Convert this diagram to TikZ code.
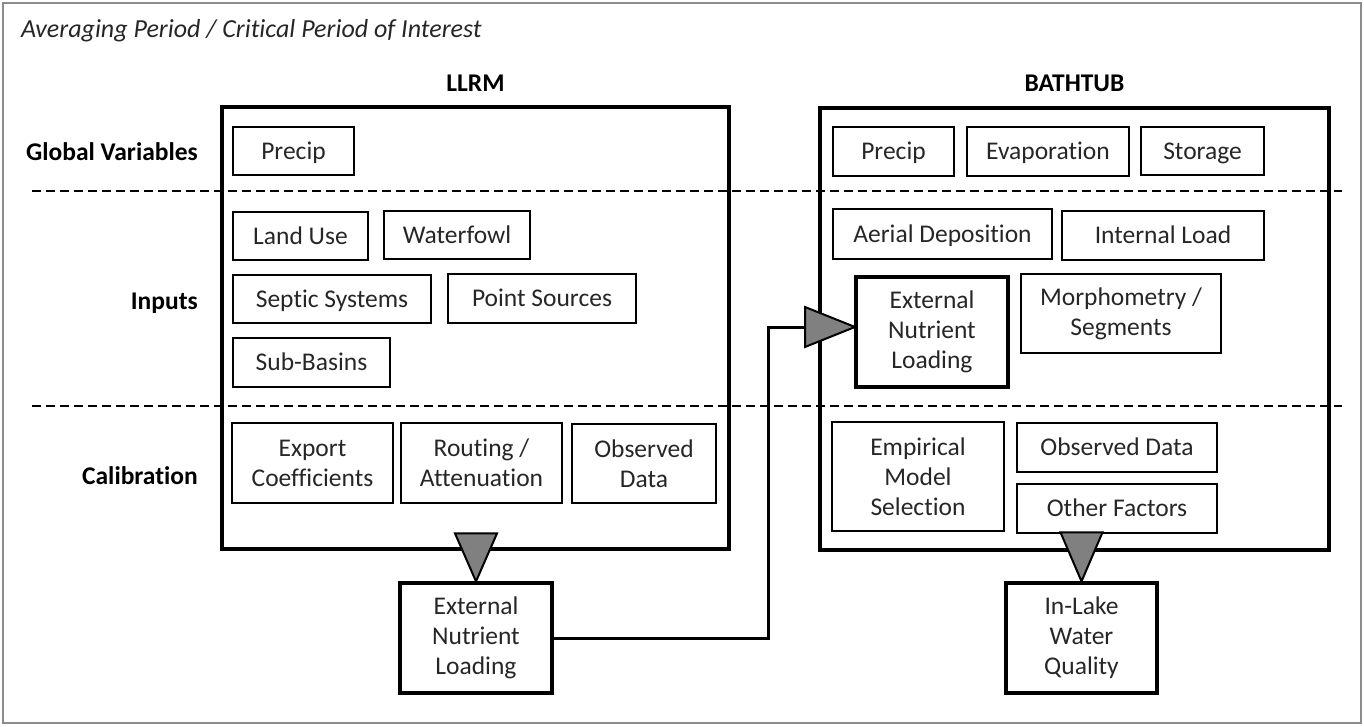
\documentclass[tikz,border=0pt]{standalone}
\usepackage{fontspec}
\setmainfont{Carlito}[Ligatures=NoCommon]
\usetikzlibrary{arrows.meta,calc}
\definecolor{trigray}{HTML}{808080}
\definecolor{framegray}{HTML}{8C8C8C}
\definecolor{txt}{HTML}{262626}
\tikzset{
  box/.style={draw, line width=2pt, inner sep=0pt, align=center, text=txt,
    font=\fontsize{25.5}{30}\selectfont},
  onebox/.style={box, text height=16.5pt, text depth=0pt},
  outbox/.style={box, line width=3.2pt},
  bigbox/.style={draw, line width=3.2pt, inner sep=0pt},
  rowlabel/.style={anchor=east, inner sep=0pt, text height=16.5pt, text depth=0pt,
    font=\fontsize{25.5}{30}\selectfont\bfseries},
  head/.style={inner sep=0pt, text height=16.5pt, text depth=0pt,
    font=\fontsize{25.5}{30}\selectfont\bfseries},
  sep/.style={line width=2pt, dash pattern=on 9pt off 5pt},
  conn/.style={line width=3pt, line join=miter},
  tri/.style={fill=trigray, draw=black, line width=2pt, line join=miter},
}
\begin{document}
\begin{tikzpicture}[x=1pt,y=-1pt]
\useasboundingbox (0,0) rectangle (1364,726);
\draw[framegray, line width=2pt] (3,3) rectangle (1361,723);

\node[anchor=west, inner sep=0pt, text=txt, text height=16.5pt, text depth=0pt,
  font=\fontsize{26}{30}\selectfont\itshape] (title) at (21,29)
  {Averaging Period / Critical Period of Interest};

% separators
\draw[sep] (32,191) -- (1342,191);
\draw[sep] (32,406) -- (1342,406);

% row labels
\node[rowlabel] (lglobal) at (198,152) {Global Variables};
\node[rowlabel] (linputs) at (198,301) {Inputs};
\node[rowlabel] (lcalib) at (198,476) {Calibration};

% headers
\node[head] (hllrm) at (475.5,83) {LLRM};
\node[head] (hbath) at (1074.5,83) {BATHTUB};

% big boxes
\node[bigbox, minimum width=507pt, minimum height=442pt] (llrm) at (475.5,328) {};
\node[bigbox, minimum width=509pt, minimum height=442pt] (bath) at (1074.5,329) {};

% LLRM contents
\node[onebox, minimum width=121pt, minimum height=48pt] (lprecip) at (293.5,151) {Precip};
\node[onebox, minimum width=135pt, minimum height=48pt] (landuse) at (300.5,236) {Land Use};
\node[onebox, minimum width=146pt, minimum height=48pt] (waterfowl) at (457,235) {Waterfowl};
\node[onebox, minimum width=198pt, minimum height=48pt] (septic) at (332,299) {Septic Systems};
\node[onebox, minimum width=188pt, minimum height=49pt] (point) at (542,298.5) {Point Sources};
\node[onebox, minimum width=157pt, minimum height=49pt] (subbasins) at (311.5,362.5) {Sub-Basins};
\node[box, minimum width=161pt, minimum height=80pt] (export) at (312.5,463) {Export\\Coefficients};
\node[box, minimum width=161pt, minimum height=80pt] (routing) at (481.5,463) {Routing /\\Attenuation};
\node[box, minimum width=144pt, minimum height=79pt] (lobs) at (644,463.5) {Observed\\Data};
\node[outbox, minimum width=152pt, minimum height=110pt] (lenl) at (476,638) {External\\Nutrient\\Loading};

% BATHTUB contents
\node[onebox, minimum width=121pt, minimum height=49pt] (bprecip) at (893.5,151.5) {Precip};
\node[onebox, minimum width=162pt, minimum height=49pt] (evap) at (1048,151.5) {Evaporation};
\node[onebox, minimum width=123pt, minimum height=48pt] (storage) at (1202.5,151) {Storage};
\node[onebox, minimum width=219pt, minimum height=50pt] (aerial) at (942.5,234) {Aerial Deposition};
\node[onebox, minimum width=202pt, minimum height=49pt] (internal) at (1163,235.5) {Internal Load};
\node[outbox, minimum width=152pt, minimum height=110pt] (benl) at (932,332) {External\\Nutrient\\Loading};
\node[box, minimum width=200pt, minimum height=79pt] (morph) at (1121,313.5) {Morphometry /\\Segments};
\node[box, minimum width=172pt, minimum height=109pt] (empir) at (918,476.5) {Empirical\\Model\\Selection};
\node[onebox, minimum width=200pt, minimum height=49pt] (bobs) at (1117,447.5) {Observed Data};
\node[onebox, minimum width=200pt, minimum height=49pt] (other) at (1117,508.5) {Other Factors};
\node[outbox, minimum width=151pt, minimum height=110pt] (inlake) at (1081.5,638) {In-Lake\\Water\\Quality};

% connector from LLRM output to BATHTUB input
\coordinate (bin) at (855,327);
\coordinate (bend) at (768,327);
\draw[conn] (lenl.east) -| (bend) -- ($(bin)+(-50,0)$);

% triangles
\draw[tri] (lenl.north) -- ++(-21,-48) -- ++(42,0) -- cycle;
\draw[tri] (inlake.north) -- ++(-21,-49) -- ++(42,0) -- cycle;
\draw[tri] (bin) -- ++(-50,-20) -- ++(0,40) -- cycle;
\end{tikzpicture}
\end{document}
